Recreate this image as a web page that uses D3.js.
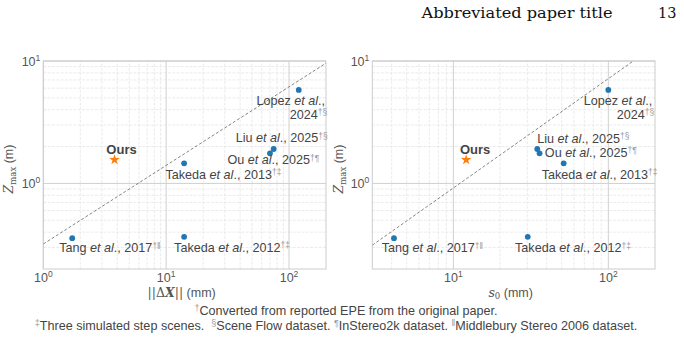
<!DOCTYPE html>
<html><head><meta charset="utf-8">
<script src="https://cdn.jsdelivr.net/npm/d3@7"></script>
<style>
html,body{margin:0;padding:0;background:#fff;}
svg{display:block;font-family:"Liberation Sans",Arial,sans-serif;}
</style></head>
<body>
<svg id="c" width="684" height="339"></svg>
<script>
// ---------- data ----------
const methods   = ["Ours", "Tang", "Takeda", "Takeda", "Ou", "Liu", "Lopez"];
const years     = ["", "2017", "2012", "2013", "2025", "2025", "2024"];
const notes     = ["", "†‖", "†‡", "†‡", "†¶", "†§", "†§"];
const deltaX    = [3.8, 1.72, 14, 14, 70, 75, 120];      // ||ΔX|| (mm)
const s0        = [12.1, 4.14, 30.2, 51.5, 36, 34.8, 100]; // s0 (mm)
const zmax      = [1.56, 0.357, 0.366, 1.46, 1.76, 1.91, 5.8]; // Zmax (m)
const refLeftX  = [1, 200],  refLeftY  = [0.32, 9.6];
const refRightX = [3, 145],  refRightY = [0.313, 10];
const xTicksLeft  = [1, 10, 100];
const xTicksRight = [10, 100];
const yTicks      = [1, 10];

// ---------- label layout (pixel offsets from the point) ----------
const labLeft  = [[7,-6,"middle"],[-13,14],[-10,15],[-18.6,15.6],[-42.6,11],[-38,-6.6],[-42.3,14.7,-9,28.7]];
const labRight = [[9,-6,"middle"],[-12.3,14],[-12.7,15.3],[-22,15.6],[5.3,3.3],[0,-6.3],[-24.7,14.7,8.3,28.7]];

const svg = d3.select("#c");
const gridMajor = "#d0d0d0", gridMinor = "#e6e6e6", frame = "#cccccc";
const txt = "#444", tick = "#555";
const LFS = 12.6;

// header
svg.append("text").attr("x",421.5).attr("y",18).attr("font-family","'DejaVu Serif',serif")
  .attr("font-size",14.5).attr("fill","#111").attr("textLength",191).attr("lengthAdjust","spacingAndGlyphs")
  .text("Abbreviated paper title");
svg.append("text").attr("x",676.5).attr("y",18).attr("text-anchor","end").attr("font-family","'DejaVu Serif',serif")
  .attr("font-size",14.5).attr("fill","#111").text("13");

function panel(xs, x0, x1, xdom, xticks, ref, lab, xlabelFn, ylabX){
  const y0 = 269, y1 = 61;
  const x = d3.scaleLog().domain(xdom).range([x0, x1]);
  const y = d3.scaleLog().domain([0.2, 10]).range([y0, y1]);
  const g = svg.append("g");
  const cid = "clip"+Math.round(x0);
  svg.append("clipPath").attr("id",cid).append("rect").attr("x",x0).attr("y",y1).attr("width",x1-x0).attr("height",y0-y1);

  // minor grid
  const xMinor = x.ticks(20).filter(v => !xticks.includes(v) && v>xdom[0] && v<xdom[1]);
  const yMinor = y.ticks(20).filter(v => !yTicks.includes(v) && v>0.2 && v<10);
  g.selectAll(".vxm").data(xMinor).join("line").attr("x1",d=>x(d)).attr("x2",d=>x(d))
    .attr("y1",y0).attr("y2",y1).attr("stroke",gridMinor).attr("stroke-width",0.8).attr("stroke-dasharray","3,1.3");
  g.selectAll(".hym").data(yMinor).join("line").attr("y1",d=>y(d)).attr("y2",d=>y(d))
    .attr("x1",x0).attr("x2",x1).attr("stroke",gridMinor).attr("stroke-width",0.8).attr("stroke-dasharray","3,1.3");
  // major grid
  g.selectAll(".vx").data(xticks).join("line").attr("x1",d=>x(d)).attr("x2",d=>x(d))
    .attr("y1",y0).attr("y2",y1).attr("stroke",gridMajor).attr("stroke-width",1);
  g.selectAll(".hy").data(yTicks).join("line").attr("y1",d=>y(d)).attr("y2",d=>y(d))
    .attr("x1",x0).attr("x2",x1).attr("stroke",gridMajor).attr("stroke-width",1);
  // frame
  g.append("rect").attr("x",x0).attr("y",y1).attr("width",x1-x0).attr("height",y0-y1)
    .attr("fill","none").attr("stroke",frame).attr("stroke-width",1);

  // tick labels
  const tl = (sel, v) => {
    sel.append("tspan").text("10");
    sel.append("tspan").attr("font-size",8.5).attr("dy",-5).text(Math.round(Math.log10(v)));
  };
  xticks.forEach(v => {
    const t = g.append("text").attr("x",x(v)).attr("y",282).attr("text-anchor","middle")
      .attr("font-size",12.5).attr("fill",tick);
    tl(t, v);
  });
  yTicks.forEach(v => {
    const t = g.append("text").attr("x",x0-3).attr("y",y(v)+4.5).attr("text-anchor","end")
      .attr("font-size",12.5).attr("fill",tick);
    tl(t, v);
  });

  // axis labels
  xlabelFn(g.append("text").attr("x",(x0+x1)/2-3).attr("y",296.5).attr("text-anchor","middle")
    .attr("font-size",12.5).attr("fill",tick));
  const yl = g.append("text").attr("transform",`translate(${ylabX},${169}) rotate(-90)`)
    .attr("text-anchor","middle").attr("font-size",12.5).attr("fill",tick);
  yl.append("tspan").attr("font-family","'DejaVu Serif',serif").attr("font-style","italic").attr("font-size",12.5).text("Z");
  yl.append("tspan").attr("font-family","'DejaVu Serif',serif").attr("font-size",8.5).attr("dy",2.5).text("max");
  yl.append("tspan").attr("dy",-2.5).text(" (m)");

  // reference line
  const line = d3.line().x(d=>x(d[0])).y(d=>y(d[1]));
  g.append("path").attr("clip-path",`url(#${cid})`).datum(d3.zip(ref[0], ref[1])).attr("d",line)
    .attr("fill","none").attr("stroke","#666").attr("stroke-width",0.8).attr("stroke-dasharray","3,2");

  // points
  const idx = d3.range(methods.length);
  g.selectAll(".pt").data(idx.filter(i=>i>0)).join("circle")
    .attr("cx",i=>x(xs[i])).attr("cy",i=>y(zmax[i])).attr("r",2.9).attr("fill","#1f77b4");
  g.append("path").attr("d",d3.symbol(d3.symbolStar, 34)())
    .attr("transform",`translate(${x(xs[0])},${y(zmax[0])})`).attr("fill","#ff7f0e");

  // labels
  idx.forEach(i => {
    const px = x(xs[i]), py = y(zmax[i]), L = lab[i];
    if (i === 0){
      g.append("text").attr("x",px+L[0]).attr("y",py+L[1]).attr("text-anchor","middle")
        .attr("font-size",13).attr("font-weight","bold").attr("fill",txt).text(methods[i]);
      return;
    }
    const addNote = t => t.append("tspan").attr("font-size",8.5).attr("fill","#999").attr("dy",-3.5).text(notes[i]);
    if (L.length > 2){
      const t1 = g.append("text").attr("x",px+L[0]).attr("y",py+L[1]).attr("font-size",LFS).attr("fill",txt);
      t1.append("tspan").text(methods[i]+" ");
      t1.append("tspan").attr("font-style","italic").text("et al");
      t1.append("tspan").text(".,");
      const t2 = g.append("text").attr("x",px+L[2]).attr("y",py+L[3]).attr("font-size",LFS).attr("fill",txt);
      t2.append("tspan").text(years[i]);
      addNote(t2);
    } else {
      const t = g.append("text").attr("x",px+L[0]).attr("y",py+L[1]).attr("font-size",LFS).attr("fill",txt);
      t.append("tspan").text(methods[i]+" ");
      t.append("tspan").attr("font-style","italic").text("et al");
      t.append("tspan").text("., "+years[i]);
      addNote(t);
    }
  });
}

panel(deltaX, 43.3, 326, [1,200], xTicksLeft, [refLeftX, refLeftY], labLeft, t => {
  t.append("tspan").attr("font-family","'DejaVu Serif',serif").text("||Δ");
  t.append("tspan").attr("font-family","'DejaVu Serif',serif").attr("font-weight","bold").attr("font-style","italic").text("X");
  t.append("tspan").attr("font-family","'DejaVu Serif',serif").text("||");
  t.append("tspan").text(" (mm)");
}, 13);
panel(s0, 372.3, 655, [3,200], xTicksRight, [refRightX, refRightY], labRight, t => {
  t.append("tspan").attr("font-family","'DejaVu Serif',serif").attr("font-style","italic").text("s");
  t.append("tspan").attr("font-family","'DejaVu Serif',serif").attr("font-size",8.5).attr("dy",2.5).text("0");
  t.append("tspan").attr("dy",-2.5).text(" (mm)");
}, 343);

// footnotes
const foot1 = [["†","Converted from reported EPE from the original paper."]];
const foot2 = [["‡","Three simulated step scenes.  "],["§","Scene Flow dataset. "],["¶","InStereo2k dataset. "],["‖","Middlebury Stereo 2006 dataset."]];
function foot(parts, xc, yb){
  const t = svg.append("text").attr("x",xc).attr("y",yb).attr("text-anchor","middle")
    .attr("font-size",12.6).attr("fill","#444").attr("xml:space","preserve");
  parts.forEach(p => {
    t.append("tspan").attr("font-size",9).attr("fill","#999").attr("dy",-3.5).text(p[0]);
    t.append("tspan").attr("dy",3.5).text(p[1]);
  });
}
foot(foot1, 346, 314.5);
foot(foot2, 336, 329.5);
</script>
</body></html>
